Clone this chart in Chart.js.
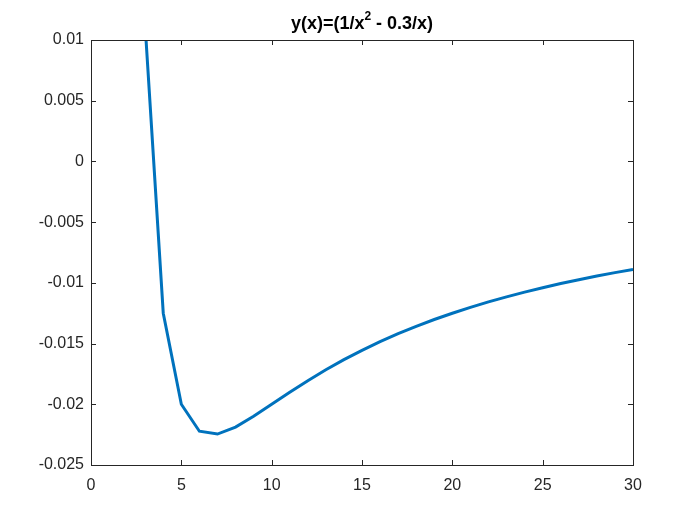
<!DOCTYPE html>
<html>
<head>
<meta charset="utf-8">
<script src="https://cdn.jsdelivr.net/npm/chart.js@4/dist/chart.umd.min.js"></script>
<style>
  html, body { margin: 0; padding: 0; background: #fff; }
  #wrap { width: 700px; height: 525px; }
</style>
</head>
<body>
<div id="wrap"><canvas id="chart" width="700" height="525"></canvas></div>
<script>
// x positions and values
const xs = [3, 4, 5, 6, 7, 8, 9, 10, 11, 12, 13, 14, 15, 16, 17, 18, 19, 20, 21, 22, 23, 24, 25, 26, 27, 28, 29, 30];
const ys = [0.01111, -0.0125, -0.02, -0.02222, -0.02245, -0.021875, -0.020988, -0.02, -0.019008, -0.018056,
  -0.01716, -0.016327, -0.015556, -0.014844, -0.014187, -0.01358, -0.013019, -0.0125, -0.012018, -0.01157,
  -0.011153, -0.010764, -0.0104, -0.010059, -0.009739, -0.009439, -0.009156, -0.008889];
const xTicks = [0, 5, 10, 15, 20, 25, 30];
const yTicks = [0.01, 0.005, 0, -0.005, -0.01, -0.015, -0.02, -0.025];
const titleParts = ["y(x)=(1/x", "2", " - 0.3/x)"];

const axisColor = "#262626";
const font = "'Liberation Sans', Arial, sans-serif";

// MATLAB style box with ticks pointing inwards, plus the title with superscript
const boxPlugin = {
  id: "box",
  afterDatasetsDraw(chart) {
    const { ctx, chartArea: a, scales } = chart;
    ctx.save();
    ctx.strokeStyle = axisColor;
    ctx.lineWidth = 1;
    ctx.beginPath();
    xTicks.forEach(v => {
      const px = Math.round(scales.x.getPixelForValue(v)) + 0.5;
      ctx.moveTo(px, a.bottom); ctx.lineTo(px, a.bottom - 5);
      ctx.moveTo(px, a.top); ctx.lineTo(px, a.top + 5);
    });
    yTicks.forEach(v => {
      const py = Math.round(scales.y.getPixelForValue(v)) + 0.5;
      ctx.moveTo(a.left, py); ctx.lineTo(a.left + 5, py);
      ctx.moveTo(a.right, py); ctx.lineTo(a.right - 5, py);
    });
    ctx.stroke();
    ctx.strokeRect(Math.round(a.left) + 0.5, Math.round(a.top) + 0.5,
      Math.round(a.right - a.left), Math.round(a.bottom - a.top));

    // title
    ctx.fillStyle = "#000";
    ctx.textBaseline = "alphabetic";
    const big = "bold 18px " + font, small = "bold 12px " + font;
    ctx.font = big;
    const w0 = ctx.measureText(titleParts[0]).width;
    const w2 = ctx.measureText(titleParts[2]).width;
    ctx.font = small;
    const w1 = ctx.measureText(titleParts[1]).width;
    const cx = (a.left + a.right) / 2;
    let x = cx - (w0 + w1 + w2) / 2;
    ctx.textAlign = "left";
    ctx.font = big;
    ctx.fillText(titleParts[0], x, 29);
    x += w0;
    ctx.font = small;
    ctx.fillText(titleParts[1], x, 20);
    x += w1;
    ctx.font = big;
    ctx.fillText(titleParts[2], x, 29);
    ctx.restore();
  }
};

new Chart(document.getElementById("chart"), {
  type: "line",
  data: {
    datasets: [{
      data: xs.map((x, i) => ({ x: x, y: ys[i] })),
      borderColor: "#0072BD",
      borderWidth: 3,
      pointRadius: 0,
      tension: 0,
      fill: false,
      clip: 0
    }]
  },
  options: {
    responsive: false,
    animation: false,
    devicePixelRatio: 1,
    layout: { padding: { top: 40, right: 67, bottom: 0, left: 0 } },
    plugins: { legend: { display: false }, title: { display: false }, tooltip: { enabled: false } },
    scales: {
      x: {
        type: "linear",
        min: 0, max: 30,
        afterBuildTicks: s => { s.ticks = xTicks.map(v => ({ value: v })); },
        grid: { display: false, drawTicks: false },
        border: { display: false },
        ticks: { color: axisColor, padding: 11, font: { family: font, size: 16 }, maxRotation: 0 },
        afterFit: s => { s.height = 60; }
      },
      y: {
        type: "linear",
        min: -0.025, max: 0.01,
        afterBuildTicks: s => { s.ticks = yTicks.map(v => ({ value: v })); },
        grid: { display: false, drawTicks: false },
        border: { display: false },
        ticks: {
          color: axisColor, padding: 7, font: { family: font, size: 16 },
          callback: v => String(+Number(v).toFixed(4))
        },
        afterFit: s => { s.width = 91; }
      }
    }
  },
  plugins: [boxPlugin]
});
</script>
</body>
</html>
